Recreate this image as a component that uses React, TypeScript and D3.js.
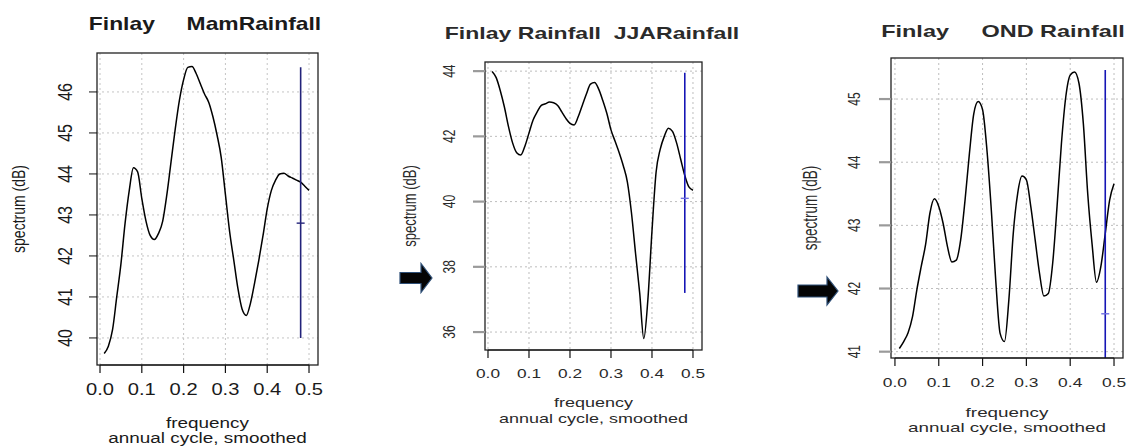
import React, { useEffect, useRef } from 'react'
import * as d3 from 'd3'

// frequencies (cycles per year) of the smoothed spectrum estimates
const freq = [
  0.01, 0.02, 0.03, 0.04, 0.05, 0.06, 0.07, 0.08, 0.09, 0.10,
  0.11, 0.12, 0.13, 0.14, 0.15, 0.16, 0.17, 0.18, 0.19, 0.20,
  0.21, 0.22, 0.23, 0.24, 0.25, 0.26, 0.27, 0.28, 0.29, 0.30,
  0.31, 0.32, 0.33, 0.34, 0.35, 0.36, 0.37, 0.38, 0.39, 0.40,
  0.41, 0.42, 0.43, 0.44, 0.45, 0.46, 0.47, 0.48, 0.49, 0.50,
]

// spectrum (dB)
const mamRainfall = [
  39.62, 39.8, 40.2, 41.0, 41.8, 42.8, 43.6, 44.15, 44.05, 43.4,
  42.85, 42.5, 42.4, 42.55, 42.85, 43.5, 44.3, 45.1, 45.8, 46.3,
  46.6, 46.62, 46.45, 46.2, 45.95, 45.75, 45.4, 44.95, 44.4, 43.5,
  42.6, 41.9, 41.2, 40.7, 40.55, 40.85, 41.35, 41.9, 42.5, 43.15,
  43.6, 43.85, 44.0, 44.02, 43.95, 43.9, 43.85, 43.8, 43.7, 43.6,
]
const jjaRainfall = [
  43.99, 43.8, 43.4, 42.9, 42.3, 41.8, 41.5, 41.43, 41.7, 42.1,
  42.5, 42.75, 42.95, 43.0, 43.05, 43.03, 42.95, 42.75, 42.55, 42.4,
  42.35, 42.6, 42.95, 43.3, 43.6, 43.65, 43.45, 43.1, 42.7, 42.2,
  41.85, 41.5, 41.1, 40.6, 39.65, 38.4, 37.2, 35.8, 37.0, 39.1,
  40.9, 41.6, 42.0, 42.25, 42.15, 41.8, 41.3, 40.8, 40.45, 40.35,
]
const ondRainfall = [
  41.05, 41.16, 41.3, 41.55, 41.98, 42.35, 42.7, 43.2, 43.42, 43.3,
  43.03, 42.66, 42.42, 42.45, 42.77, 43.4, 44.14, 44.77, 44.96, 44.83,
  44.19, 43.24, 42.13, 41.29, 41.16, 41.82, 42.87, 43.5, 43.78, 43.72,
  43.3, 42.77, 42.24, 41.88, 41.92, 42.4, 43.3, 44.3, 45.04, 45.38,
  45.43, 45.25, 44.61, 43.5, 42.7, 42.1, 42.35, 42.87, 43.4, 43.66,
]

// confidence bar: lower, centre, upper (dB) drawn at ciFreq
const ciFreq = 0.48
const mamCI = [40.0, 42.8, 46.6]
const jjaCI = [37.2, 40.1, 43.95]
const ondCI = [38.8, 41.6, 45.46]

const freqTicks = [0, 0.1, 0.2, 0.3, 0.4, 0.5]
const mamTicks = [40, 41, 42, 43, 44, 45, 46]
const jjaTicks = [36, 38, 40, 42, 44]
const ondTicks = [41, 42, 43, 44, 45]

const titles = ['Finlay     MamRainfall', 'Finlay Rainfall  JJARainfall', 'Finlay     OND Rainfall']
const xLabel = ['frequency', 'annual cycle, smoothed']
const yLabel = 'spectrum (dB)'

// layout of each panel (the picture is stretched sideways, hence sx)
const panels = [
  {
    title: titles[0], values: mamRainfall, ci: mamCI, yTicks: mamTicks,
    box: { l: 97, r: 318, t: 53, b: 365 }, xDom: [-0.0072, 0.5215], yDom: [39.34, 46.95],
    sx: 1.26, titleSx: 1.27, titleX: 205, titleY: 30, titleSize: 18,
    tickSize: 16, tickY: 395, yTickX: 72, tickLen: 8, tickColor: '#111', tickW: 1,
    labSize: 15, labY: [428, 443], yLabX: 25, yLabSize: 14,
    text: '#1a1a1a', ciColor: '#23237a', crossColor: '#23237a', grid: '#c4c4c4', arrow: null,
  },
  {
    title: titles[1], values: jjaRainfall, ci: jjaCI, yTicks: jjaTicks,
    box: { l: 485, r: 702, t: 62, b: 350 }, xDom: [-0.0073, 0.522], yDom: [35.45, 44.28],
    sx: 1.44, titleSx: 1.44, titleX: 592, titleY: 39, titleSize: 16,
    tickSize: 12, tickY: 378, yTickX: 455, tickLen: 12, tickColor: '#9a9a9a', tickW: 2.2,
    labSize: 12.5, labY: [407, 423], yLabX: 416, yLabSize: 13,
    text: '#2a2a2a', ciColor: '#1515b5', crossColor: '#6f6fe0', grid: '#bdbdbd',
    arrow: { x0: 400, x1: 421, x2: 432, y: 278, body: 11, head: 29 },
  },
  {
    title: titles[2], values: ondRainfall, ci: ondCI, yTicks: ondTicks,
    box: { l: 891, r: 1123, t: 58, b: 358 }, xDom: [-0.009, 0.5205], yDom: [40.9, 45.65],
    sx: 1.45, titleSx: 1.38, titleX: 1003, titleY: 37, titleSize: 17,
    tickSize: 12, tickY: 387, yTickX: 860, tickLen: 12, tickColor: '#9a9a9a', tickW: 2.2,
    labSize: 13, labY: [417, 432], yLabX: 817, yLabSize: 13.5,
    text: '#2a2a2a', ciColor: '#1515b5', crossColor: '#6f6fe0', grid: '#bdbdbd',
    arrow: { x0: 798, x1: 827, x2: 838, y: 291, body: 12, head: 28 },
  },
]

export default function App() {
  const ref = useRef<SVGSVGElement>(null)

  useEffect(() => {
    const svg = d3.select(ref.current)
    svg.selectAll('*').remove()
    const font = '"Liberation Sans", Arial, sans-serif'

    panels.forEach((p, i) => {
      const g = svg.append('g')
      const x = d3.scaleLinear().domain(p.xDom).range([p.box.l, p.box.r])
      const y = d3.scaleLinear().domain(p.yDom).range([p.box.b, p.box.t])
      const pts = freq.map((f, k) => [f, p.values[k]] as [number, number])

      const label = (str: string, tx: number, ty: number, size: number, rot = 0, bold = false, sx = p.sx) =>
        g.append('text')
          .attr('transform', `translate(${tx},${ty}) scale(${sx},1)${rot ? ` rotate(${rot})` : ''}`)
          .attr('text-anchor', 'middle')
          .attr('font-family', font)
          .attr('font-size', size)
          .attr('font-weight', bold ? 'bold' : 'normal')
          .attr('fill', p.text)
          .style('white-space', 'pre')
          .text(str)

      // grid
      g.selectAll('.vg').data(freqTicks).enter().append('line')
        .attr('x1', d => x(d)).attr('x2', d => x(d))
        .attr('y1', p.box.t).attr('y2', p.box.b)
        .attr('stroke', p.grid).attr('stroke-dasharray', '2,3')
      g.selectAll('.hg').data(p.yTicks).enter().append('line')
        .attr('x1', p.box.l).attr('x2', p.box.r)
        .attr('y1', d => y(d)).attr('y2', d => y(d))
        .attr('stroke', p.grid).attr('stroke-dasharray', '2,3')

      // clip to the plot box
      const clipId = `clip${i}`
      g.append('clipPath').attr('id', clipId).append('rect')
        .attr('x', p.box.l).attr('y', p.box.t)
        .attr('width', p.box.r - p.box.l).attr('height', p.box.b - p.box.t)

      // the spectrum
      const line = d3.line<[number, number]>()
        .x(d => x(d[0]))
        .y(d => y(d[1]))
        .curve(d3.curveMonotoneX)
      g.append('path')
        .datum(pts)
        .attr('d', line)
        .attr('fill', 'none')
        .attr('stroke', '#000')
        .attr('stroke-width', 1.5)
        .attr('clip-path', `url(#${clipId})`)

      // confidence bar
      const ci = g.append('g').attr('clip-path', `url(#${clipId})`)
      ci.append('line')
        .attr('x1', x(ciFreq)).attr('x2', x(ciFreq))
        .attr('y1', y(p.ci[0])).attr('y2', y(p.ci[2]))
        .attr('stroke', p.ciColor).attr('stroke-width', 1.6)
      ci.append('line')
        .attr('x1', x(ciFreq) - 4).attr('x2', x(ciFreq) + 4)
        .attr('y1', y(p.ci[1])).attr('y2', y(p.ci[1]))
        .attr('stroke', p.crossColor).attr('stroke-width', 1.4)

      // box
      g.append('rect')
        .attr('x', p.box.l).attr('y', p.box.t)
        .attr('width', p.box.r - p.box.l).attr('height', p.box.b - p.box.t)
        .attr('fill', 'none').attr('stroke', '#222').attr('stroke-width', 1.3)

      // x axis
      g.append('line')
        .attr('x1', x(0)).attr('x2', x(0.5))
        .attr('y1', p.box.b).attr('y2', p.box.b)
        .attr('stroke', '#111')
      g.selectAll('.xt').data(freqTicks).enter().append('line')
        .attr('x1', d => x(d)).attr('x2', d => x(d))
        .attr('y1', p.box.b).attr('y2', p.box.b + 8)
        .attr('stroke', '#111').attr('stroke-width', 1.2)
      freqTicks.forEach(t => label(d3.format('.1f')(t), x(t), p.tickY, p.tickSize))

      // y axis
      g.selectAll('.yt').data(p.yTicks).enter().append('line')
        .attr('x1', p.box.l - p.tickLen).attr('x2', p.box.l)
        .attr('y1', d => y(d)).attr('y2', d => y(d))
        .attr('stroke', p.tickColor).attr('stroke-width', p.tickW)
      p.yTicks.forEach(t => label(String(t), p.yTickX, y(t), p.tickSize, -90))

      // titles and axis labels
      label(p.title, p.titleX, p.titleY, p.titleSize, 0, true, p.titleSx)
      const cx = (p.box.l + p.box.r) / 2
      label(xLabel[0], cx, p.labY[0], p.labSize)
      label(xLabel[1], cx, p.labY[1], p.labSize)
      label(yLabel, p.yLabX, (p.box.t + p.box.b) / 2, p.yLabSize, -90)

      // pointer arrow
      if (p.arrow) {
        const a = p.arrow
        const shape: [number, number][] = [
          [a.x0, a.y - a.body / 2], [a.x1, a.y - a.body / 2], [a.x1, a.y - a.head / 2],
          [a.x2, a.y], [a.x1, a.y + a.head / 2], [a.x1, a.y + a.body / 2], [a.x0, a.y + a.body / 2],
        ]
        g.append('path')
          .attr('d', d3.line()(shape) + 'Z')
          .attr('fill', '#050505')
          .attr('stroke', '#2f5078')
          .attr('stroke-width', 1.2)
      }
    })
  }, [])

  return (
    <svg
      ref={ref}
      width={1131}
      height={446}
      style={{ position: 'absolute', left: 0, top: 0, background: '#fff' }}
    />
  )
}
